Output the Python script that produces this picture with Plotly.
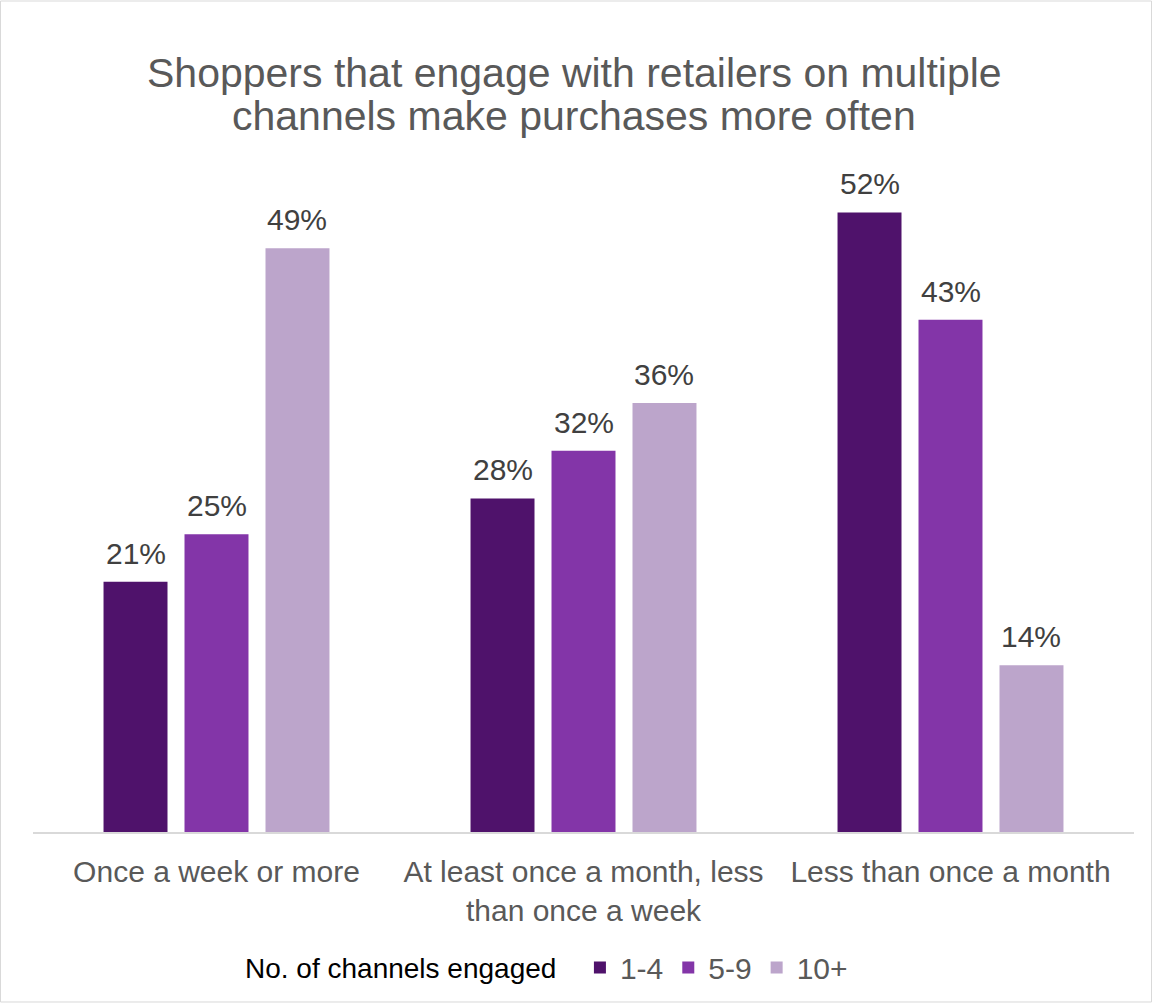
import plotly.graph_objects as go

categories = ["Once a week or more",
              "At least once a month, less<br>than once a week",
              "Less than once a month"]
series_names = ["1-4", "5-9", "10+"]
values_1_4 = [21, 28, 52]
values_5_9 = [25, 32, 43]
values_10p = [49, 36, 14]
colors = ["#4F126B", "#8335A8", "#BCA5CB"]
title_lines = ["Shoppers that engage with retailers on multiple",
               "channels make purchases more often"]

W, H = 1153, 1006
ml, mr, mt, mb = 33, 19, 170, 172
pw, ph = W - ml - mr, H - mt - mb
px_per_pct = 11.95
bargap, bargroupgap = 0.338, 0.21
slot_px = pw / len(categories) * (1 - bargap) / len(series_names)

fig = go.Figure()
all_vals = [values_1_4, values_5_9, values_10p]
for name, vals, col in zip(series_names, all_vals, colors):
    fig.add_trace(go.Bar(
        name=name, x=categories, y=vals,
        marker=dict(color=col, line=dict(width=0)),
    ))

annotations = []
for i, vals in enumerate(all_vals):
    shift = (i - 1) * slot_px
    for cat, v in zip(categories, vals):
        annotations.append(dict(x=cat, y=v, xref="x", yref="y", text=f"{v}%",
                                showarrow=False, xanchor="center", yanchor="bottom",
                                xshift=shift, yshift=10,
                                font=dict(size=30, color="#404040")))
for j, line in enumerate(title_lines):
    annotations.append(dict(x=(574 - ml) / pw, xref="paper", xanchor="center",
                            y=(H - mb - (73 + 43 * j)) / ph, yref="paper", yanchor="middle",
                            text=line, showarrow=False,
                            font=dict(size=41, color="#595959")))

fig.update_layout(
    width=W, height=H,
    margin=dict(l=ml, r=mr, t=mt, b=mb),
    paper_bgcolor="white", plot_bgcolor="white",
    font=dict(family="Liberation Sans, Arial, sans-serif", color="#595959"),
    barmode="group", bargap=bargap, bargroupgap=bargroupgap,
    xaxis=dict(showline=True, linecolor="#D9D9D9", linewidth=2, ticks="",
               tickfont=dict(size=30, color="#595959"), showgrid=False,
               ticklabelstandoff=12),
    yaxis=dict(range=[0, ph / px_per_pct], visible=False, showgrid=False),
    showlegend=True,
    legend=dict(orientation="h", x=(243 - ml) / pw, xanchor="left",
                y=-(970 - (H - mb)) / ph, yanchor="middle",
                title=dict(text="No. of channels engaged  ", font=dict(size=28, color="#000000")),
                font=dict(size=30, color="#595959"), itemwidth=30, traceorder="normal"),
    annotations=annotations,
    shapes=[dict(type="rect", xref="paper", yref="paper",
                 x0=(0.5 - ml) / pw, x1=(W - 1.5 - ml) / pw,
                 y0=-(mb - 1.5) / ph, y1=(mt - 0.5) / ph + 1,
                 line=dict(color="#D9D9D9", width=1), fillcolor="rgba(0,0,0,0)", layer="above")],
)

fig.write_html("out.html")
